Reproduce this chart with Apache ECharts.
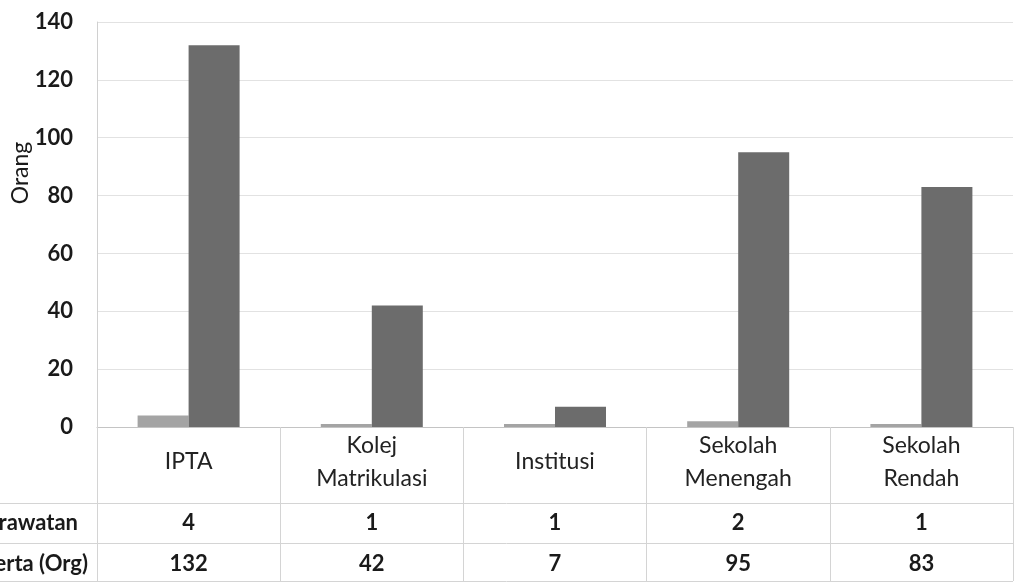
<!DOCTYPE html>
<html>
<head>
<meta charset="utf-8">
<script src="https://cdn.jsdelivr.net/npm/echarts@6/dist/echarts.min.js"></script>
<style>
  html, body { margin: 0; padding: 0; background: #fff; }
  #chart { width: 1014px; height: 587px; }
</style>
</head>
<body>
<div id="chart"></div>
<script>
const categories = ['IPTA', 'Kolej Matrikulasi', 'Institusi', 'Sekolah Menengah', 'Sekolah Rendah']
const perawatan = [4, 1, 1, 2, 1]
const peserta = [132, 42, 7, 95, 83]
const yTicks = { min: 0, max: 140, interval: 20 }

const font = 'Lato, "Open Sans", sans-serif'
const lineColor = '#d4d4d4'

const chart = echarts.init(document.getElementById('chart'))

// row label rows of the data table under the axis
const tableAxis = (values, offset, margin) => ({
  type: 'category',
  gridIndex: 0,
  position: 'bottom',
  offset: offset,
  data: values.map(String),
  axisLine: { show: false },
  axisTick: { show: false },
  axisLabel: {
    margin: margin,
    color: '#1a1a1a',
    fontFamily: font,
    fontWeight: 'bold',
    fontSize: 22,
    lineHeight: 22,
  },
})

const hLine = (y) => ({
  type: 'line',
  shape: { x1: 0, y1: y, x2: 1013, y2: y },
  style: { stroke: lineColor, lineWidth: 1 },
})

const option = {
  animation: false,
  grid: { left: 97, right: 1, top: 22, bottom: 160 },
  xAxis: [
    {
      type: 'category',
      data: categories,
      axisLine: { lineStyle: { color: '#c4c4c4' } },
      axisTick: { show: true, length: 154, lineStyle: { color: lineColor } },
      axisLabel: {
        margin: 35,
        verticalAlign: 'middle',
        color: '#222',
        fontFamily: font,
        fontSize: 23,
        lineHeight: 33,
        formatter: (v) => v.replace(' ', '\n'),
      },
    },
    tableAxis(perawatan, 76, 9),
    tableAxis(peserta, 116, 10),
  ],
  yAxis: {
    type: 'value',
    min: yTicks.min,
    max: yTicks.max,
    interval: yTicks.interval,
    axisLine: { show: true, lineStyle: { color: '#d0d0d0' } },
    axisTick: { show: false },
    splitLine: { lineStyle: { color: '#e2e2e2' } },
    axisLabel: {
      margin: 24,
      color: '#1a1a1a',
      fontFamily: font,
      fontWeight: 'bold',
      fontSize: 22,
    },
  },
  graphic: [
    hLine(503.5),
    hLine(543.5),
    hLine(581.5),
    {
      type: 'text',
      x: 21,
      y: 173,
      rotation: Math.PI / 2,
      style: {
        text: 'Orang',
        fill: '#1a1a1a',
        font: '23px ' + font,
        align: 'center',
        verticalAlign: 'middle',
      },
    },
    {
      type: 'text',
      x: 78,
      y: 523,
      style: {
        text: 'Perawatan',
        fill: '#1a1a1a',
        font: 'bold 22px ' + font,
        align: 'right',
        verticalAlign: 'middle',
      },
    },
    {
      type: 'text',
      x: 88,
      y: 564,
      style: {
        text: 'Peserta (Org)',
        fill: '#1a1a1a',
        font: 'bold 22px ' + font,
        align: 'right',
        verticalAlign: 'middle',
      },
    },
  ],
  series: [
    {
      name: 'Perawatan',
      type: 'bar',
      data: perawatan,
      barWidth: 51,
      barGap: '0%',
      itemStyle: { color: '#a4a4a4' },
    },
    {
      name: 'Peserta (Org)',
      type: 'bar',
      data: peserta,
      barWidth: 51,
      barGap: '0%',
      itemStyle: { color: '#6c6c6c' },
    },
  ],
}

chart.setOption(option)
</script>
</body>
</html>
